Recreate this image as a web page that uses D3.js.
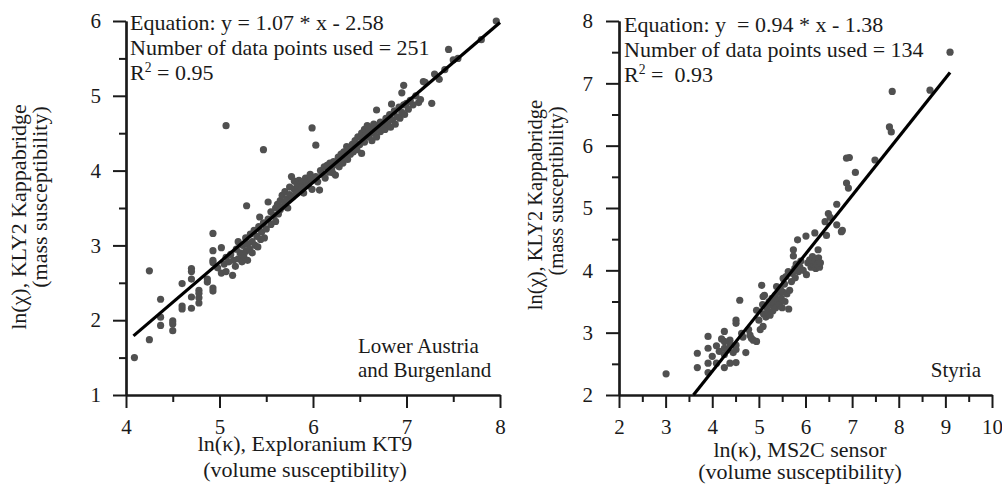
<!DOCTYPE html>
<html>
<head>
<meta charset="utf-8">
<script src="https://cdnjs.cloudflare.com/ajax/libs/d3/7.8.5/d3.min.js"></script>
<style>
  body { margin: 0; background: #fff; }
  svg text { font-family: "Liberation Serif", "Times New Roman", serif; fill: #1a1a1a; }
</style>
</head>
<body>
<svg id="chart" width="1002" height="485"></svg>
<script>
// Lower Austria and Burgenland: ln(kappa) KT9 vs ln(chi) KLY2
const leftPoints = [
  [4.09,1.50],[4.25,1.74],[4.25,2.66],[4.37,2.28],[4.37,2.04],[4.37,1.93],[4.50,1.99],[4.50,1.95],
  [4.50,1.86],[4.60,2.49],[4.60,2.19],[4.60,2.15],[4.70,2.69],[4.70,2.65],[4.70,2.55],[4.70,2.31],
  [4.70,2.16],[4.78,2.40],[4.78,2.36],[4.78,2.30],[4.78,2.23],[4.87,2.51],[4.87,2.55],[4.93,2.93],
  [4.93,2.80],[4.93,2.77],[4.93,2.43],[4.93,2.39],[4.93,3.16],[4.98,2.70],
  [5.02,2.97],[5.02,2.63],[5.05,2.75],[5.07,2.65],[5.07,2.84],[5.10,2.78],[5.12,2.88],[5.14,2.60],
  [5.15,2.80],[5.17,2.72],[5.18,2.95],[5.20,2.82],[5.20,3.05],[5.22,2.90],[5.24,2.78],[5.25,3.00],
  [5.26,2.85],[5.28,3.10],[5.28,2.92],[5.30,2.80],[5.30,3.02],[5.32,2.95],[5.33,3.15],[5.35,2.90],
  [5.35,3.05],[5.37,3.20],[5.38,3.00],[5.40,3.12],[5.41,2.98],[5.42,3.25],[5.43,3.38],[5.44,3.08],
  [5.45,3.18],[5.47,3.30],[5.47,4.28],[5.48,3.10],[5.50,3.22],[5.29,3.53],[5.07,4.60],
  [5.52,3.58],[5.52,3.35],[5.55,3.28],[5.55,3.45],[5.58,3.40],[5.60,3.50],[5.60,3.32],[5.62,3.55],
  [5.63,3.42],[5.65,3.60],[5.65,3.48],[5.67,3.67],[5.68,3.52],[5.70,3.58],[5.70,3.72],[5.72,3.62],
  [5.73,3.50],[5.75,3.68],[5.75,3.78],[5.77,3.92],[5.78,3.65],[5.80,3.75],[5.80,3.86],[5.82,3.70],
  [5.83,3.80],[5.85,3.87],[5.85,3.72],[5.87,3.82],[5.88,3.78],[5.90,3.86],[5.90,3.70],[5.92,3.90],
  [5.93,3.85],[5.95,3.80],[5.97,3.86],[5.97,3.95],[5.99,4.57],[5.99,3.75],[5.98,3.88],
  [6.03,4.34],[6.03,3.92],[6.05,3.85],[6.07,3.74],[6.08,4.00],[6.10,3.95],[6.12,4.05],[6.13,3.90],
  [6.15,4.07],[6.17,3.98],[6.18,4.10],[6.20,4.02],[6.21,3.97],[6.22,4.12],[6.24,3.94],[6.25,4.08],
  [6.27,4.18],[6.28,4.05],[6.29,4.14],[6.30,4.22],[6.32,4.10],[6.33,4.25],[6.35,4.18],[6.36,4.32],
  [6.37,4.15],[6.38,4.28],[6.40,4.22],[6.42,4.35],[6.43,4.25],[6.45,4.30],[6.45,4.40],[6.47,4.28],
  [6.48,4.45],[6.50,4.35],[6.52,4.23],[6.52,4.50],
  [6.53,4.42],[6.55,4.55],[6.55,4.38],[6.57,4.48],[6.58,4.60],[6.60,4.45],[6.60,4.52],[6.62,4.58],
  [6.63,4.40],[6.65,4.50],[6.65,4.62],[6.67,4.55],[6.68,4.81],[6.68,4.45],[6.70,4.58],[6.72,4.52],
  [6.72,4.65],[6.75,4.60],[6.77,4.55],[6.78,4.70],[6.80,4.62],[6.82,4.75],[6.83,4.58],[6.84,4.89],
  [6.85,4.68],[6.87,4.80],[6.88,4.62],[6.90,4.72],[6.92,4.85],[6.93,4.70],[6.95,5.04],[6.95,4.78],
  [6.97,5.14],[6.97,4.88],[6.98,4.75],
  [7.00,4.90],[7.02,4.82],[7.04,4.94],[7.07,4.88],[7.10,5.00],[7.13,4.91],[7.15,4.95],[7.18,5.19],
  [7.20,5.18],[7.27,4.90],[7.30,5.29],[7.35,5.22],[7.41,5.35],[7.45,5.62],[7.50,5.48],[7.55,5.50],
  [7.80,5.75],[7.96,6.00]
];
const leftFit = [[4.08, 1.79], [8.0, 5.98]];

// Styria: ln(kappa) MS2C vs ln(chi) KLY2
const rightPoints = [
  [3.01,2.34],[3.68,2.67],[3.68,2.44],[3.91,2.94],[3.91,2.75],[3.91,2.51],[3.91,2.36],[4.00,2.62],
  [4.09,2.79],[4.09,2.51],[4.15,2.70],[4.20,2.90],[4.26,3.02],[4.26,2.86],[4.26,2.75],[4.26,2.65],
  [4.26,2.44],[4.32,2.72],[4.38,2.88],[4.38,2.80],[4.38,2.51],[4.45,2.68],[4.51,3.20],[4.51,3.15],
  [4.51,2.80],[4.51,2.73],[4.51,2.52],[4.59,3.52],[4.63,2.99],[4.66,2.93],[4.72,2.68],[4.78,3.05],
  [4.81,2.96],[4.84,2.91],[4.88,2.88],[4.95,2.86],[4.95,3.36],[5.00,3.20],[5.03,3.05],[5.06,3.76],
  [5.08,3.45],[5.09,3.10],[5.09,3.58],[5.10,3.30],[5.12,3.60],[5.15,3.25],[5.17,3.40],[5.20,3.32],
  [5.22,3.50],[5.24,3.28],[5.25,3.45],[5.28,3.55],[5.30,3.35],[5.32,3.48],[5.35,3.60],[5.36,3.40],
  [5.38,3.74],[5.40,3.52],[5.42,3.65],[5.44,3.45],[5.46,3.70],[5.48,3.55],[5.50,3.40],[5.52,3.87],
  [5.52,3.65],[5.55,3.78],[5.56,3.50],[5.58,3.90],[5.60,3.62],[5.63,3.98],[5.64,3.38],[5.66,3.68],
  [5.70,3.82],[5.72,3.95],[5.74,4.33],[5.74,4.23],[5.77,4.03],[5.78,3.88],[5.80,4.10],[5.83,4.49],
  [5.85,3.98],[5.88,4.05],[5.90,4.15],[5.95,4.00],[6.01,4.55],[6.02,3.93],[6.05,4.12],[6.09,4.17],
  [6.12,4.05],[6.15,4.22],[6.18,4.08],[6.20,4.60],[6.20,4.15],[6.22,4.03],[6.25,4.10],[6.27,4.33],
  [6.28,4.20],[6.30,4.05],[6.32,4.12],[6.42,4.78],[6.45,4.56],[6.49,4.91],[6.53,4.85],[6.67,5.06],
  [6.67,4.73],[6.77,4.62],[6.79,4.64],[6.88,5.80],[6.88,5.40],[6.92,5.32],[6.94,5.81],[7.07,5.57],
  [7.49,5.77],[7.80,6.30],[7.84,6.22],[7.86,6.87],[8.67,6.89],[9.10,7.50]
];
const rightFit = [[3.596, 2.0], [9.10, 7.174]];

const leftXTicks = [4, 5, 6, 7, 8];
const leftYTicks = [1, 2, 3, 4, 5, 6];
const rightXTicks = [2, 3, 4, 5, 6, 7, 8, 9, 10];
const rightYTicks = [2, 3, 4, 5, 6, 7, 8];

const leftText = ["Equation: y = 1.07 * x - 2.58", "Number of data points used = 251", "R|2| = 0.95"];
const rightText = ["Equation: y  = 0.94 * x - 1.38", "Number of data points used = 134", "R|2| =  0.93"];

const svg = d3.select("#chart");

// minor ticks half way between the majors
function halves(ticks) {
  return ticks.slice(0, -1).map(t => t + 0.5);
}

function drawPanel(p) {
  const x = d3.scaleLinear().domain(p.xDomain).range(p.xRange);
  const y = d3.scaleLinear().domain(p.yDomain).range(p.yRange);
  const g = svg.append("g");
  const base = p.yRange[0], left = p.xRange[0];

  // minor ticks
  g.append("g").attr("transform", "translate(0," + base + ")")
    .call(d3.axisBottom(x).tickValues(halves(p.xTicks)).tickSize(7).tickSizeOuter(0).tickFormat(""));
  g.append("g").attr("transform", "translate(" + left + ",0)")
    .call(d3.axisLeft(y).tickValues(halves(p.yTicks)).tickSize(7).tickSizeOuter(0).tickFormat(""));

  // major ticks + labels
  g.append("g").attr("transform", "translate(0," + base + ")")
    .call(d3.axisBottom(x).tickValues(p.xTicks).tickSize(13).tickSizeOuter(0).tickPadding(11).tickFormat(d3.format("d")));
  g.append("g").attr("transform", "translate(" + left + ",0)")
    .call(d3.axisLeft(y).tickValues(p.yTicks).tickSize(13).tickSizeOuter(0).tickPadding(p.yPad).tickFormat(d3.format("d")));

  g.selectAll(".domain").attr("stroke", "#1a1a1a").attr("stroke-width", 2.2);
  g.selectAll(".tick line").attr("stroke", "#1a1a1a").attr("stroke-width", 2);
  g.selectAll(".tick text").attr("font-size", 21).attr("font-family", "Liberation Serif").attr("fill", "#1a1a1a");

  // points
  g.append("g").selectAll("circle")
    .data(p.points)
    .join("circle")
      .attr("cx", d => x(d[0]))
      .attr("cy", d => y(d[1]))
      .attr("r", 3.6)
      .attr("fill", "#505050");

  // regression line
  g.append("path")
    .datum(p.fit)
    .attr("d", d3.line().x(d => x(d[0])).y(d => y(d[1])))
    .attr("stroke", "#000")
    .attr("stroke-width", 3.2)
    .attr("fill", "none");

  // equation block
  const eq = g.append("text").attr("font-size", p.eqSize).attr("xml:space", "preserve").style("white-space", "pre");
  p.text.forEach((line, i) => {
    const parts = line.split("|");
    const t = eq.append("tspan").attr("x", p.eqX).attr("y", p.eqY + i * 25);
    if (parts.length === 1) {
      t.text(line);
    } else {
      t.text(parts[0]);
      eq.append("tspan").attr("dy", -8).attr("font-size", p.eqSize * 0.62).text(parts[1]);
      eq.append("tspan").attr("dy", 8).text(parts[2]);
    }
  });

  // region label
  p.region.forEach((line, i) => {
    g.append("text").attr("x", p.regionX).attr("y", p.regionY + i * 24)
      .attr("font-size", 21).attr("text-anchor", p.regionAnchor).text(line);
  });

  // x axis title
  p.xTitle.forEach((line, i) => {
    g.append("text").attr("x", p.xTitleX).attr("y", p.xTitleY[i])
      .attr("font-size", 22).attr("text-anchor", "middle").text(line);
  });

  // y axis title (rotated)
  p.yTitle.forEach((line, i) => {
    g.append("text")
      .attr("transform", "translate(" + p.yTitleX[i] + "," + p.yTitleY[i] + ") rotate(-90)")
      .attr("font-size", p.yTitleSize).attr("text-anchor", "middle").text(line);
  });
}

drawPanel({
  xDomain: [4, 8], xRange: [126, 500],
  yDomain: [1, 6], yRange: [395, 21],
  xTicks: leftXTicks, yTicks: leftYTicks, yPad: 12,
  points: leftPoints, fit: leftFit,
  text: leftText, eqX: 130, eqY: 30, eqSize: 22,
  region: ["Lower Austria", "and Burgenland"], regionX: 358, regionY: 353, regionAnchor: "start",
  xTitle: ["ln(\u03ba), Exploranium KT9", "(volume susceptibility)"], xTitleX: 305, xTitleY: [451, 477],
  yTitle: ["ln(\u03c7), KLY2 Kappabridge", "(mass susceptibility)"],
  yTitleX: [26, 47], yTitleY: [217, 197], yTitleSize: 22
});

drawPanel({
  xDomain: [2, 10], xRange: [619, 992],
  yDomain: [2, 8], yRange: [395, 21],
  xTicks: rightXTicks, yTicks: rightYTicks, yPad: 13,
  points: rightPoints, fit: rightFit,
  text: rightText, eqX: 624, eqY: 32, eqSize: 22,
  region: ["Styria"], regionX: 981, regionY: 377, regionAnchor: "end",
  xTitle: ["ln(\u03ba), MS2C sensor", "(volume susceptibility)"], xTitleX: 800, xTitleY: [457, 479],
  yTitle: ["ln(\u03c7), KLY2 Kappabridge", "(mass susceptibility)"],
  yTitleX: [542, 563], yTitleY: [205, 191], yTitleSize: 20.5
});
</script>
</body>
</html>
